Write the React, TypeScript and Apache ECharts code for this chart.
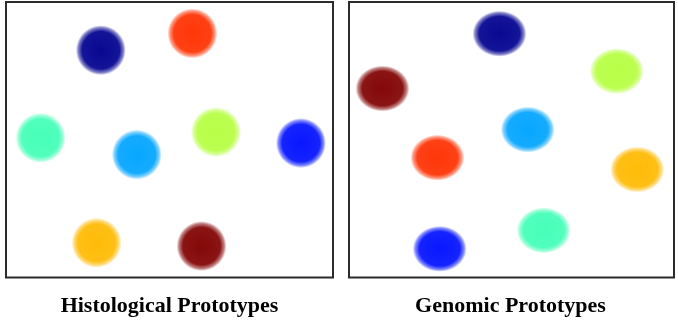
import React, { useEffect, useRef } from "react";
import * as echarts from "echarts";

// Prototype cluster colours (jet colormap, 8 samples)
const protoNames = ["P1", "P2", "P3", "P4", "P5", "P6", "P7", "P8"];
const protoColors = ["#00008f", "#0010ff", "#00a4ff", "#41ffb6", "#b6ff41", "#ffb900", "#ff3000", "#800000"];

// Histological prototype embedding centres (arbitrary 0-100 units)
const histoX = [29.0, 90.2, 40.0, 10.6, 64.2, 27.7, 57.0, 59.8];
const histoY = [82.5, 48.8, 44.6, 50.7, 52.8, 12.6, 88.6, 11.4];

// Genomic prototype embedding centres
const genoX = [46.3, 27.9, 55.0, 59.9, 82.4, 88.7, 27.2, 10.3];
const genoY = [88.5, 10.4, 53.7, 17.1, 74.9, 39.2, 43.5, 68.6];

const panelTitles = ["Histological Prototypes", "Genomic Prototypes"];

function blob(color: string) {
  return new echarts.graphic.RadialGradient(0.5, 0.5, 0.5, [
    { offset: 0, color: echarts.color.modifyAlpha(color, 0.97) },
    { offset: 0.75, color: echarts.color.modifyAlpha(color, 0.92) },
    { offset: 0.9, color: echarts.color.modifyAlpha(color, 0.5) },
    { offset: 1, color: echarts.color.modifyAlpha(color, 0) },
  ]);
}

export default function App() {
  const ref = useRef<HTMLDivElement>(null);
  useEffect(() => {
    if (!ref.current) return;
    const chart = echarts.init(ref.current, undefined, { renderer: "svg" });
    const mk = (xs: number[], ys: number[], idx: number, size: number[]) => ({
      type: "scatter",
      xAxisIndex: idx,
      yAxisIndex: idx,
      symbol: "circle",
      symbolSize: size,
      itemStyle: { opacity: 1 },
      data: xs.map((x, i) => ({
        name: protoNames[i],
        value: [x, ys[i]],
        itemStyle: { color: blob(protoColors[i]), opacity: 1 },
      })),
    });
    const axisCommon = { type: "value", min: 0, max: 100, show: false };
    const titleFont = 'bold 22px "Liberation Serif", "Times New Roman", serif';
    chart.setOption({
      animation: false,
      grid: [
        { left: 6, top: 2, width: 327, height: 275.5, show: true, borderColor: "#2b2b2b", borderWidth: 2, backgroundColor: "transparent" },
        { left: 349, top: 2, width: 325, height: 275.5, show: true, borderColor: "#2b2b2b", borderWidth: 2, backgroundColor: "transparent" },
      ],
      xAxis: [
        { ...axisCommon, gridIndex: 0 },
        { ...axisCommon, gridIndex: 1 },
      ],
      yAxis: [
        { ...axisCommon, gridIndex: 0 },
        { ...axisCommon, gridIndex: 1 },
      ],
      graphic: [
        {
          type: "text",
          x: 169.5,
          y: 304,
          style: { text: panelTitles[0], font: titleFont, fill: "#000", textAlign: "center", textVerticalAlign: "middle" },
        },
        {
          type: "text",
          x: 510.5,
          y: 304,
          style: { text: panelTitles[1], font: titleFont, fill: "#000", textAlign: "center", textVerticalAlign: "middle" },
        },
      ],
      series: [mk(histoX, histoY, 0, [50, 50]), mk(genoX, genoY, 1, [54, 46])],
    });
    return () => chart.dispose();
  }, []);
  return <div ref={ref} style={{ position: "fixed", left: 0, top: 0, width: 678, height: 320 }} />;
}
